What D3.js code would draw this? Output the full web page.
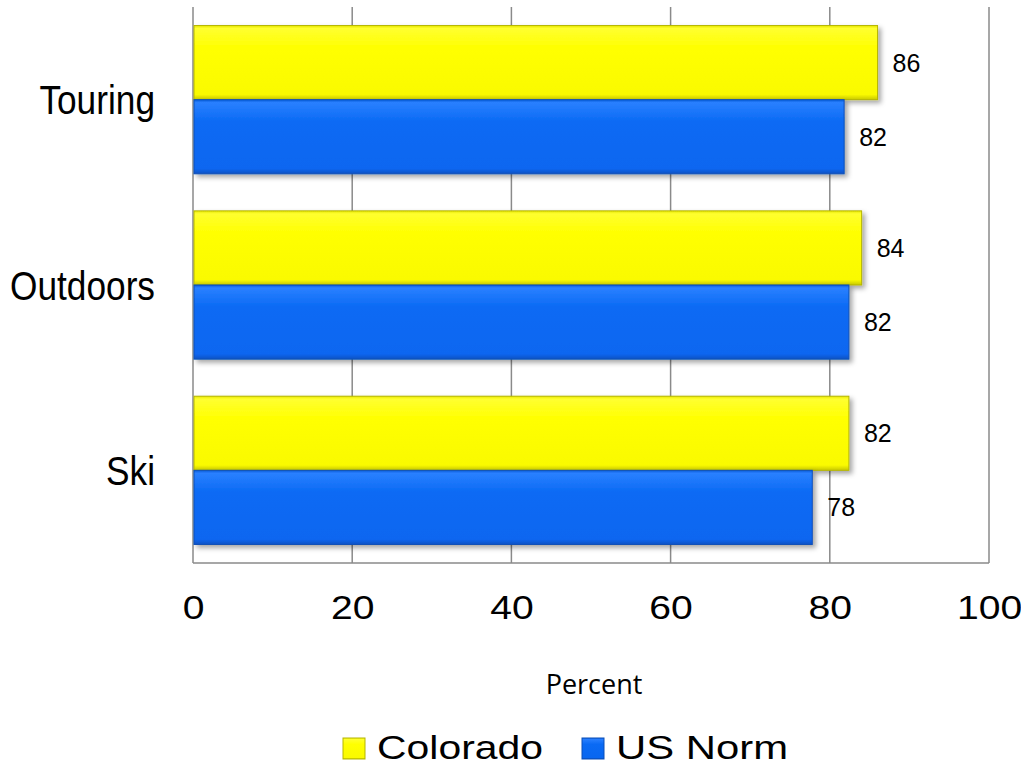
<!DOCTYPE html>
<html>
<head>
<meta charset="utf-8">
<script src="https://cdn.jsdelivr.net/npm/d3@7"></script>
<style>
  html, body { margin: 0; padding: 0; background: #fff; }
  svg { display: block; }
</style>
</head>
<body>
<svg id="chart" width="1021" height="765"></svg>
<script>
// ---- data ----
const categories = ["Touring", "Outdoors", "Ski"];
const seriesNames = ["Colorado", "US Norm"];
const colorado = [86, 84, 82.4];
const usNorm = [81.8, 82.4, 77.8];
const tickValues = [0, 20, 40, 60, 80, 100];
const axisTitle = "Percent";

const svg = d3.select("#chart");
const W = 1021, H = 765;
const m = { left: 193, right: 32, top: 7, bottom: 202 };
const plotRight = W - m.right, plotBottom = H - m.bottom;

const x = d3.scaleLinear().domain([0, 100]).range([m.left, plotRight]);
const y = d3.scaleBand().domain(categories).range([m.top, plotBottom])
  .paddingInner(0.2).paddingOuter(0.1);
const ys = d3.scaleBand().domain(seriesNames).range([0, y.bandwidth()]);

const gid = s => "grad-" + seriesNames.indexOf(s);
const edges = { "Colorado": "#b5b500", "US Norm": "#0a4fb8" };

const defs = svg.append("defs");
const f = defs.append("filter").attr("id", "shadow")
  .attr("x", "-5%").attr("y", "-10%").attr("width", "115%").attr("height", "130%");
f.append("feDropShadow").attr("dx", 3).attr("dy", 3).attr("stdDeviation", 2.5)
  .attr("flood-color", "#000").attr("flood-opacity", 0.35);

function grad(id, stops) {
  const g = defs.append("linearGradient").attr("id", id)
    .attr("x1", 0).attr("y1", 0).attr("x2", 0).attr("y2", 1);
  stops.forEach(s => g.append("stop").attr("offset", s[0]).attr("stop-color", s[1]));
}
grad(gid("Colorado"), [[0, "#e8e800"], [0.04, "#ffff30"], [0.3, "#ffff00"], [0.93, "#fafa00"], [1, "#c9c900"]]);
grad(gid("US Norm"), [[0, "#0a5bd8"], [0.04, "#2a80ff"], [0.3, "#0a6af4"], [0.93, "#0866f0"], [1, "#0a52c4"]]);

// gridlines
svg.append("g").selectAll("line").data(tickValues).join("line")
  .attr("x1", d => x(d)).attr("x2", d => x(d))
  .attr("y1", m.top).attr("y2", plotBottom)
  .attr("stroke", "#8a8a8a").attr("stroke-width", 1.5);
// bottom axis line
svg.append("line").attr("x1", x(0)).attr("x2", x(100))
  .attr("y1", plotBottom).attr("y2", plotBottom)
  .attr("stroke", "#8a8a8a").attr("stroke-width", 1.5);

// bars
const rows = categories.map((c, i) => ({ cat: c, vals: [
  { s: "Colorado", v: colorado[i] }, { s: "US Norm", v: usNorm[i] } ] }));

const g = svg.append("g").selectAll("g").data(rows).join("g")
  .attr("transform", d => `translate(0,${y(d.cat)})`);

g.selectAll("rect").data(d => d.vals).join("rect")
  .attr("x", x(0) + 1)
  .attr("y", d => ys(d.s))
  .attr("width", d => x(d.v) - x(0) - 1)
  .attr("height", ys.bandwidth())
  .attr("fill", d => `url(#${gid(d.s)})`)
  .attr("stroke", d => edges[d.s]).attr("stroke-width", 1)
  .attr("filter", "url(#shadow)");

g.selectAll("text.val").data(d => d.vals).join("text").attr("class", "val")
  .attr("x", d => x(d.v) + 15)
  .attr("y", d => ys(d.s) + ys.bandwidth() / 2)
  .attr("dy", "0.36em")
  .attr("font-family", "Liberation Sans, Arial, sans-serif")
  .attr("font-size", 25)
  .attr("fill", "#000")
  .text(d => d3.format(".0f")(d.v));

// category labels (narrow face emulated with horizontal scale)
svg.append("g").selectAll("text").data(categories).join("text")
  .attr("transform", d => `translate(155,${y(d) + y.bandwidth() / 2}) scale(0.86,1)`)
  .attr("dy", "0.36em")
  .attr("text-anchor", "end")
  .attr("font-family", "Liberation Sans, Arial, sans-serif")
  .attr("font-size", 41)
  .attr("fill", "#000")
  .text(d => d);

// x tick labels
const xAxis = d3.axisBottom(x).tickValues(tickValues).tickSize(0).tickPadding(0);
const ax = svg.append("g").attr("transform", `translate(0,${plotBottom})`).call(xAxis);
ax.select(".domain").remove();
ax.selectAll("text")
  .attr("y", 0).attr("dy", 0).attr("x", 0)
  .attr("transform", "translate(0,56) scale(1.15,1)")
  .attr("font-family", "Liberation Sans, Arial, sans-serif")
  .attr("font-size", 34)
  .attr("fill", "#000");

// axis title
svg.append("text")
  .attr("x", (x(0) + x(100)) / 2 + 3).attr("y", 694)
  .attr("text-anchor", "middle")
  .attr("font-family", "Open Sans, Noto Sans, sans-serif")
  .attr("font-size", 27)
  .attr("fill", "#000")
  .text(axisTitle);

// legend
const legX = [343, 582];
const leg = svg.append("g").selectAll("g").data(seriesNames).join("g")
  .attr("transform", (d, i) => `translate(${legX[i]},738)`);
leg.append("rect").attr("width", 22).attr("height", 21)
  .attr("fill", d => `url(#${gid(d)})`)
  .attr("stroke", d => edges[d]).attr("stroke-width", 1);
leg.append("text").attr("x", 34).attr("y", 20.5)
  .attr("font-family", "Liberation Sans, Arial, sans-serif")
  .attr("font-size", 33)
  .attr("fill", "#000")
  .attr("textLength", (d, i) => i === 0 ? 166 : 172)
  .attr("lengthAdjust", "spacingAndGlyphs")
  .text(d => d);
</script>
</body>
</html>
